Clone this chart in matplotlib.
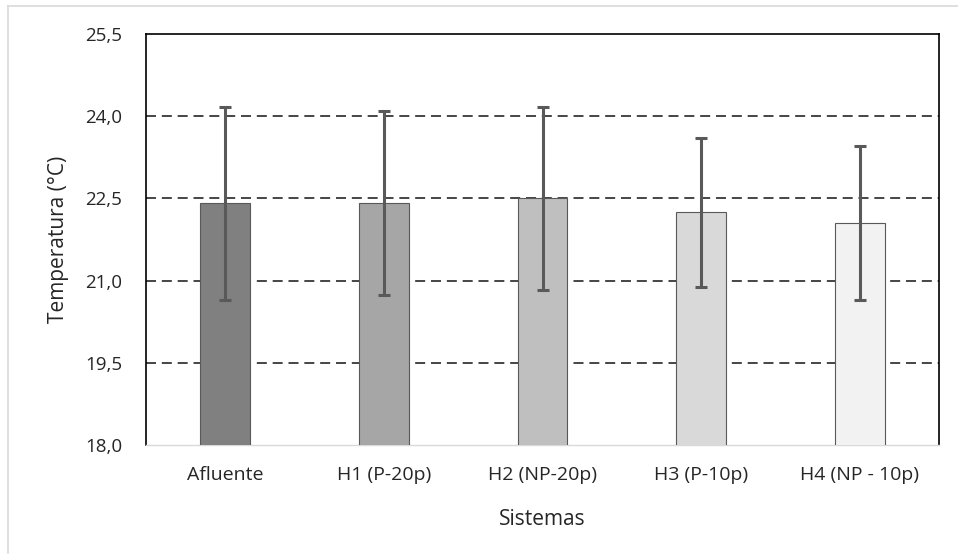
import numpy as np
import matplotlib.pyplot as plt
from matplotlib.lines import Line2D

# data
sistemas = ['Afluente', 'H1 (P-20p)', 'H2 (NP-20p)', 'H3 (P-10p)', 'H4 (NP - 10p)']
temp_media = [22.41, 22.41, 22.50, 22.25, 22.05]
temp_dp = [1.76, 1.68, 1.67, 1.36, 1.41]
cores = ['#808080', '#a6a6a6', '#bfbfbf', '#d9d9d9', '#f2f2f2']
yticks = [18.0, 19.5, 21.0, 22.5, 24.0, 25.5]

plt.rcParams['font.family'] = ['Open Sans', 'DejaVu Sans']

fig = plt.figure(figsize=(9.58, 5.56), dpi=100)
ax = fig.add_axes([146/958, 1 - 445/556, 793/958, 411/556])

x = np.arange(len(sistemas))
ax.bar(x, temp_media, width=0.315, color=cores, edgecolor='#595959',
       linewidth=0.8, zorder=3)
ax.errorbar(x, temp_media, yerr=temp_dp, fmt='none', ecolor='#595959',
            elinewidth=2.2, capsize=4, capthick=2.2, zorder=4)

ax.set_ylim(18, 25.5)
ax.set_xlim(-0.5, 4.5)
ax.set_yticks(yticks)
ax.set_yticklabels([('%.1f' % v).replace('.', ',') for v in yticks])
ax.set_xticks(x)
ax.set_xticklabels(sistemas)

for v in yticks[1:-1]:
    ax.axhline(v, color='#262626', linestyle=(0, (6, 3.5)), linewidth=1.2, zorder=1)

ax.tick_params(axis='y', length=0, labelsize=13.5, pad=17, colors='#262626')
ax.tick_params(axis='x', length=0, labelsize=14, pad=15, colors='#262626')

for s in ['left', 'top', 'right']:
    ax.spines[s].set_color('black')
    ax.spines[s].set_linewidth(1.2)
ax.spines['bottom'].set_color('#d9d9d9')
ax.spines['bottom'].set_linewidth(1.0)

ax.set_ylabel('Temperatura (°C)', fontsize=15, color='#262626', labelpad=12)
ax.set_xlabel('Sistemas', fontsize=15, color='#262626', labelpad=18)

# faint outer frame
fig.add_artist(Line2D([8/958, 8/958], [0.005, 1 - 6/556], color='#d9d9d9', lw=1.2))
fig.add_artist(Line2D([8/958, 1.0], [1 - 6/556, 1 - 6/556], color='#d9d9d9', lw=1.2))

fig.savefig('out.png', dpi=100)
